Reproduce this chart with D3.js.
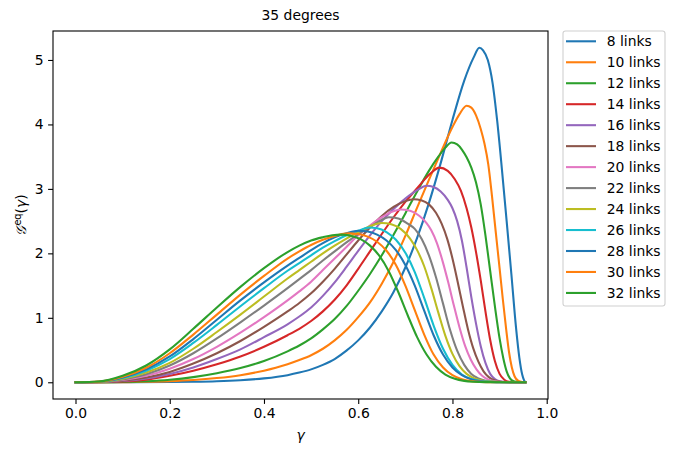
<!DOCTYPE html>
<html>
<head>
<meta charset="utf-8">
<script src="https://cdn.jsdelivr.net/npm/d3@7"></script>
<style>
  body { margin: 0; background: white; }
  svg text { font-family: "DejaVu Sans", sans-serif; fill: black; }
</style>
</head>
<body>
<div id="chart"></div>
<script>
// curve values: [gamma, value]
var links = [8, 10, 12, 14, 16, 18, 20, 22, 24, 26, 28, 30, 32];

var c8 = [[0,0],[0.1,0.001],[0.2,0.004],[0.25,0.008],[0.3,0.016],[0.35,0.032],[0.4,0.06],[0.45,0.11],[0.475,0.15],[0.5,0.20],[0.525,0.27],[0.55,0.36],[0.575,0.49],[0.6,0.65],[0.625,0.85],[0.65,1.10],[0.675,1.40],[0.7,1.78],[0.725,2.24],[0.75,2.78],[0.775,3.40],[0.8,4.07],[0.825,4.68],[0.845,5.04],[0.857,5.19],[0.865,5.15],[0.875,5.0],[0.885,4.65],[0.895,4.05],[0.905,3.30],[0.915,2.50],[0.925,1.68],[0.935,0.84],[0.942,0.38],[0.948,0.12],[0.952,0.03],[0.955,0]];
var c10 = [[0,0],[0.1,0.002],[0.15,0.007],[0.2,0.017],[0.25,0.035],[0.3,0.065],[0.35,0.11],[0.4,0.18],[0.425,0.225],[0.45,0.28],[0.475,0.345],[0.5,0.42],[0.525,0.52],[0.55,0.65],[0.575,0.81],[0.6,1.01],[0.625,1.24],[0.65,1.53],[0.675,1.87],[0.7,2.27],[0.725,2.71],[0.75,3.14],[0.775,3.56],[0.8,3.96],[0.815,4.16],[0.83,4.29],[0.84,4.26],[0.85,4.14],[0.86,3.93],[0.868,3.70],[0.876,3.38],[0.884,2.88],[0.892,2.32],[0.9,1.77],[0.907,1.28],[0.914,0.82],[0.92,0.47],[0.926,0.23],[0.932,0.09],[0.94,0.02],[0.948,0.003],[0.955,0]];
var c12 = [[0,0],[0.05,0.001],[0.1,0.005],[0.15,0.017],[0.2,0.04],[0.25,0.08],[0.3,0.14],[0.35,0.22],[0.4,0.33],[0.45,0.48],[0.475,0.57],[0.5,0.68],[0.525,0.82],[0.55,0.98],[0.575,1.18],[0.6,1.42],[0.625,1.68],[0.65,1.97],[0.675,2.29],[0.7,2.62],[0.725,2.96],[0.75,3.28],[0.77,3.50],[0.785,3.64],[0.798,3.72],[0.81,3.69],[0.82,3.61],[0.83,3.49],[0.84,3.33],[0.85,3.10],[0.86,2.76],[0.87,2.28],[0.88,1.73],[0.89,1.18],[0.9,0.68],[0.908,0.37],[0.915,0.17],[0.922,0.06],[0.93,0.015],[0.94,0.002],[0.955,0]];
var c14 = [[0,0],[0.05,0.002],[0.1,0.012],[0.15,0.04],[0.2,0.10],[0.25,0.18],[0.3,0.28],[0.35,0.40],[0.4,0.55],[0.45,0.73],[0.475,0.83],[0.5,0.95],[0.525,1.10],[0.55,1.28],[0.575,1.50],[0.6,1.76],[0.625,2.03],[0.65,2.30],[0.675,2.56],[0.7,2.80],[0.725,3.01],[0.74,3.14],[0.755,3.25],[0.772,3.33],[0.79,3.28],[0.805,3.15],[0.818,2.97],[0.83,2.70],[0.84,2.40],[0.85,2.02],[0.86,1.58],[0.87,1.10],[0.88,0.66],[0.89,0.33],[0.9,0.13],[0.91,0.04],[0.92,0.008],[0.935,0.001],[0.955,0]];
var c16 = [[0,0],[0.05,0.003],[0.1,0.02],[0.15,0.06],[0.2,0.13],[0.25,0.23],[0.3,0.36],[0.35,0.51],[0.4,0.70],[0.45,0.90],[0.475,1.02],[0.5,1.16],[0.525,1.34],[0.55,1.55],[0.575,1.79],[0.6,2.04],[0.625,2.28],[0.65,2.50],[0.675,2.69],[0.7,2.85],[0.725,2.98],[0.745,3.05],[0.76,3.03],[0.775,2.96],[0.79,2.83],[0.8,2.70],[0.81,2.50],[0.82,2.20],[0.83,1.78],[0.84,1.32],[0.85,0.91],[0.86,0.56],[0.87,0.30],[0.88,0.13],[0.89,0.05],[0.9,0.015],[0.915,0.002],[0.955,0]];
var c18 = [[0,0],[0.05,0.004],[0.1,0.025],[0.15,0.075],[0.2,0.16],[0.25,0.29],[0.3,0.45],[0.35,0.64],[0.4,0.86],[0.45,1.10],[0.475,1.23],[0.5,1.38],[0.525,1.56],[0.55,1.76],[0.575,1.98],[0.6,2.20],[0.625,2.40],[0.65,2.58],[0.675,2.72],[0.7,2.81],[0.717,2.84],[0.735,2.82],[0.75,2.76],[0.765,2.63],[0.777,2.46],[0.789,2.22],[0.8,1.92],[0.811,1.56],[0.822,1.18],[0.833,0.82],[0.844,0.53],[0.855,0.32],[0.866,0.17],[0.877,0.08],[0.888,0.035],[0.9,0.013],[0.915,0.003],[0.94,0.001],[0.955,0]];
var c20 = [[0,0],[0.05,0.005],[0.1,0.035],[0.15,0.10],[0.2,0.21],[0.25,0.36],[0.3,0.55],[0.35,0.77],[0.4,1.01],[0.45,1.27],[0.475,1.41],[0.5,1.56],[0.525,1.74],[0.55,1.92],[0.575,2.10],[0.6,2.28],[0.625,2.43],[0.65,2.56],[0.67,2.64],[0.69,2.68],[0.71,2.66],[0.73,2.58],[0.745,2.47],[0.755,2.36],[0.767,2.16],[0.779,1.88],[0.791,1.55],[0.803,1.19],[0.815,0.85],[0.827,0.56],[0.839,0.35],[0.851,0.20],[0.863,0.10],[0.875,0.045],[0.89,0.015],[0.91,0.003],[0.935,0.001],[0.955,0]];
var c22 = [[0,0],[0.05,0.006],[0.1,0.045],[0.15,0.125],[0.2,0.26],[0.25,0.45],[0.3,0.68],[0.35,0.93],[0.4,1.19],[0.45,1.46],[0.475,1.60],[0.5,1.74],[0.525,1.89],[0.55,2.03],[0.575,2.17],[0.6,2.30],[0.625,2.41],[0.645,2.50],[0.665,2.56],[0.685,2.54],[0.705,2.46],[0.72,2.38],[0.735,2.22],[0.75,1.97],[0.765,1.63],[0.78,1.22],[0.795,0.81],[0.81,0.49],[0.825,0.27],[0.84,0.13],[0.855,0.06],[0.87,0.025],[0.89,0.008],[0.91,0.002],[0.955,0]];
var c24 = [[0,0],[0.05,0.007],[0.1,0.055],[0.15,0.15],[0.2,0.30],[0.25,0.52],[0.3,0.78],[0.35,1.05],[0.4,1.33],[0.45,1.61],[0.475,1.74],[0.5,1.87],[0.525,2.00],[0.55,2.12],[0.575,2.23],[0.6,2.33],[0.625,2.42],[0.65,2.47],[0.67,2.45],[0.69,2.38],[0.71,2.23],[0.725,2.05],[0.74,1.80],[0.755,1.46],[0.77,1.08],[0.785,0.72],[0.8,0.44],[0.815,0.25],[0.83,0.13],[0.845,0.065],[0.86,0.03],[0.88,0.01],[0.9,0.003],[0.93,0.001],[0.955,0]];
var c26 = [[0,0],[0.05,0.008],[0.1,0.065],[0.15,0.18],[0.2,0.36],[0.25,0.61],[0.3,0.89],[0.35,1.18],[0.4,1.46],[0.45,1.73],[0.475,1.85],[0.5,1.97],[0.525,2.09],[0.55,2.19],[0.575,2.28],[0.6,2.35],[0.623,2.40],[0.64,2.39],[0.66,2.33],[0.68,2.21],[0.7,2.01],[0.72,1.71],[0.74,1.31],[0.76,0.88],[0.78,0.52],[0.8,0.27],[0.82,0.12],[0.84,0.05],[0.86,0.018],[0.88,0.006],[0.91,0.001],[0.955,0]];
var c28 = [[0,0],[0.05,0.009],[0.1,0.075],[0.15,0.20],[0.2,0.40],[0.25,0.67],[0.3,0.97],[0.35,1.27],[0.4,1.55],[0.45,1.81],[0.475,1.93],[0.5,2.05],[0.525,2.16],[0.55,2.25],[0.575,2.31],[0.6,2.35],[0.62,2.34],[0.64,2.29],[0.66,2.20],[0.68,2.05],[0.7,1.82],[0.72,1.50],[0.74,1.11],[0.76,0.73],[0.78,0.43],[0.8,0.23],[0.82,0.11],[0.84,0.045],[0.86,0.016],[0.88,0.005],[0.91,0.001],[0.955,0]];
var c30 = [[0,0],[0.05,0.01],[0.1,0.085],[0.15,0.225],[0.2,0.45],[0.25,0.74],[0.3,1.05],[0.35,1.36],[0.4,1.65],[0.45,1.92],[0.475,2.03],[0.5,2.13],[0.525,2.21],[0.55,2.27],[0.58,2.31],[0.6,2.30],[0.62,2.26],[0.64,2.18],[0.66,2.04],[0.68,1.82],[0.7,1.50],[0.72,1.12],[0.74,0.74],[0.76,0.43],[0.78,0.23],[0.8,0.11],[0.82,0.047],[0.84,0.018],[0.86,0.006],[0.89,0.001],[0.955,0]];
var c32 = [[0,0],[0.05,0.012],[0.1,0.10],[0.15,0.26],[0.2,0.51],[0.25,0.83],[0.3,1.16],[0.35,1.48],[0.4,1.77],[0.45,2.02],[0.475,2.12],[0.5,2.20],[0.525,2.25],[0.545,2.28],[0.565,2.29],[0.585,2.27],[0.605,2.22],[0.625,2.12],[0.645,1.96],[0.665,1.72],[0.685,1.40],[0.705,1.04],[0.725,0.70],[0.745,0.43],[0.765,0.24],[0.785,0.12],[0.805,0.055],[0.825,0.022],[0.845,0.008],[0.87,0.002],[0.955,0]];

var curves = [c8, c10, c12, c14, c16, c18, c20, c22, c24, c26, c28, c30, c32];

var xTicks = [0, 0.2, 0.4, 0.6, 0.8, 1.0];
var yTicks = [0, 1, 2, 3, 4, 5];

var colors = ["#1f77b4", "#ff7f0e", "#2ca02c", "#d62728", "#9467bd", "#8c564b",
              "#e377c2", "#7f7f7f", "#bcbd22", "#17becf"];

var W = 675, H = 453;
var margin = {top: 31, left: 53, right: 127, bottom: 54};
var width = W - margin.left - margin.right;
var height = H - margin.top - margin.bottom;

var svg = d3.select("#chart").append("svg")
    .attr("width", W)
    .attr("height", H);

var g = svg.append("g")
    .attr("transform", "translate(" + margin.left + "," + margin.top + ")");

// matplotlib style 5% margins
var x = d3.scaleLinear().domain([-0.04775, 1.00275]).range([0, width]);
var y = d3.scaleLinear().domain([-0.2595, 5.4495]).range([height, 0]);

var line = d3.line()
    .x(d => x(d[0]))
    .y(d => y(d[1]))
    .curve(d3.curveMonotoneX);

g.append("defs").append("clipPath").attr("id", "clip")
  .append("rect").attr("width", width).attr("height", height);

g.append("g").attr("clip-path", "url(#clip)")
  .selectAll("path")
  .data(curves)
  .enter().append("path")
    .attr("d", line)
    .attr("fill", "none")
    .attr("stroke", (d, i) => colors[i % 10])
    .attr("stroke-width", 2.08)
    .attr("stroke-linejoin", "round")
    .attr("stroke-linecap", "square");

// axes
var xAxis = g.append("g")
    .attr("transform", "translate(0," + height + ")")
    .call(d3.axisBottom(x).tickValues(xTicks).tickFormat(d3.format(".1f"))
      .tickSize(4.9).tickPadding(4.5).tickSizeOuter(0));

var yAxis = g.append("g")
    .call(d3.axisLeft(y).tickValues(yTicks).tickFormat(d3.format("d"))
      .tickSize(4.9).tickPadding(4.5).tickSizeOuter(0));

[xAxis, yAxis].forEach(a => {
  a.select(".domain").remove();
  a.selectAll("line").attr("stroke", "black").attr("stroke-width", 1.1);
  a.selectAll("text").style("font-family", "DejaVu Sans").style("font-size", "13.9px").attr("fill", "black");
});

// frame
g.append("rect")
    .attr("width", width)
    .attr("height", height)
    .attr("fill", "none")
    .attr("stroke", "black")
    .attr("stroke-width", 1.1);

// title and labels
svg.append("text")
    .attr("x", margin.left + width / 2)
    .attr("y", 20)
    .attr("text-anchor", "middle")
    .style("font-size", "13.9px")
    .text("35 degrees");

svg.append("text")
    .attr("x", margin.left + width / 2)
    .attr("y", 440)
    .attr("text-anchor", "middle")
    .style("font-size", "13.9px")
    .style("font-style", "italic")
    .text("γ");

var yl = svg.append("text")
    .attr("transform", "translate(26," + (margin.top + height / 2) + ") rotate(-90)")
    .attr("text-anchor", "middle")
    .style("font-size", "13.9px");
yl.append("tspan").style("font-family", "DejaVu Serif").style("font-style", "italic").text("𝒢");
yl.append("tspan").attr("dy", -5).style("font-size", "9.7px").text("eq");
yl.append("tspan").attr("dy", 5).text("(");
yl.append("tspan").style("font-style", "italic").text("γ");
yl.append("tspan").text(")");

// legend
var legend = svg.append("g").attr("transform", "translate(563,31)");
legend.append("rect")
    .attr("width", 102)
    .attr("height", 275)
    .attr("rx", 2.5)
    .attr("fill", "white")
    .attr("stroke", "#d0d0d0")
    .attr("stroke-width", 1.1);

var item = legend.selectAll(".item")
    .data(links)
    .enter().append("g")
    .attr("class", "item")
    .attr("transform", (d, i) => "translate(0," + (10.3 + i * 20.97) + ")");

item.append("line")
    .attr("x1", 3).attr("x2", 33)
    .attr("stroke", (d, i) => colors[i % 10])
    .attr("stroke-width", 2.08);

item.append("text")
    .attr("x", 43.7)
    .attr("y", 5)
    .style("font-size", "13.9px")
    .text(d => d + " links");
</script>
</body>
</html>
